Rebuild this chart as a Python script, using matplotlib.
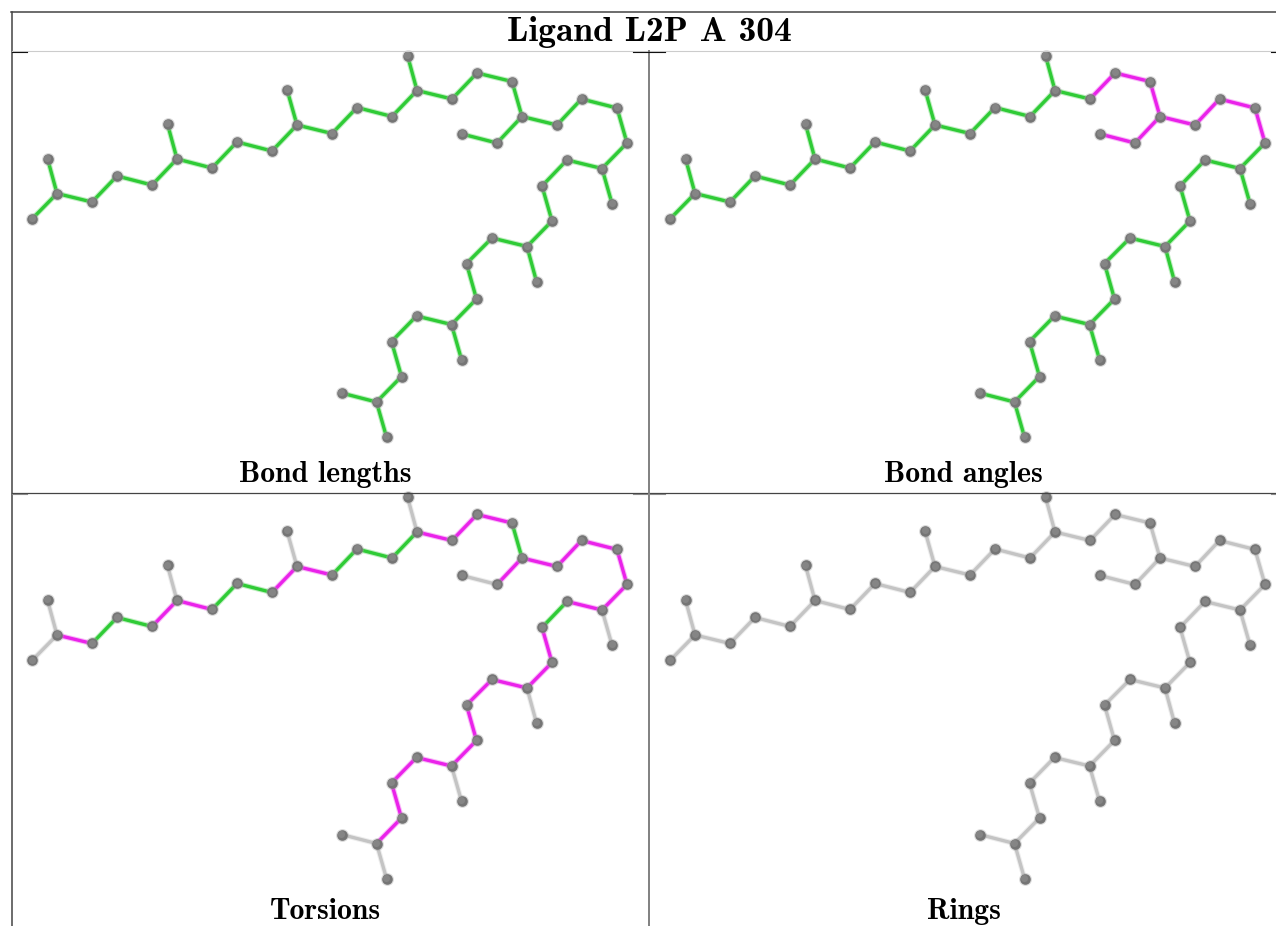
"""Ligand validation panels: one skeleton drawn four times, bonds coloured by outlier status."""

import matplotlib
matplotlib.use('Agg')
import matplotlib.pyplot as plt

W, H = 1276, 926

title = 'Ligand L2P A 304'
panel_names = ['Bond lengths', 'Bond angles', 'Torsions', 'Rings']

# atom positions
atom_x = [32, 57, 47.5, 92, 117, 152, 177, 167.5, 212, 237, 272, 297, 287, 332, 357, 392,
          417, 407.5, 452, 477, 512, 522, 497, 462, 557, 581.5, 617, 627, 602, 612, 567,
          542, 552, 527, 536.5, 492, 466.5, 476.5, 451.5, 461.5, 416.5, 391.5, 401.5,
          376.5, 341.5, 386.5]
atom_y = [219, 193.5, 158.5, 202, 176, 185, 159, 124, 168, 142, 151, 125, 89.5, 133.5,
          107.5, 116.5, 90.5, 55.5, 99, 73, 81.5, 116.5, 143, 134, 125, 99, 108, 143,
          168.5, 203.5, 160, 186, 221, 246.5, 281.5, 238, 263.5, 299, 324.5, 359.5, 316,
          341.5, 376.5, 402, 393, 437]

bond_a = [0, 1, 1, 3, 4, 5, 6, 6, 8, 9, 10, 11, 11, 13, 14, 15, 16, 16, 18, 19, 20, 21, 22,
          21, 24, 25, 26, 27, 28, 28, 30, 31, 32, 33, 33, 35, 36, 37, 38, 38, 40, 41, 42,
          43, 43]
bond_b = [1, 2, 3, 4, 5, 6, 7, 8, 9, 10, 11, 12, 13, 14, 15, 16, 17, 18, 19, 20, 21, 22, 23,
          24, 25, 26, 27, 28, 29, 30, 31, 32, 33, 34, 35, 36, 37, 38, 39, 40, 41, 42, 43,
          44, 45]

# g = checked ok, m = has outliers, n = not checked
status_lengths = 'g' * 45
status_angles = 'g' * 18 + 'mmmmmmmmm' + 'g' * 18
status_torsions = ('nnmggmnmggmnmgggnmmmgmnmmmmmnmgmmnmmmmnmmmmnn')
status_rings = 'n' * 45
panel_status = [status_lengths, status_angles, status_torsions, status_rings]

bond_colors = {'g': '#2fcb36', 'm': '#ea22ea', 'n': '#c4c4c4'}


def draw_panel(ax, status):
    for a, b, st in zip(bond_a, bond_b, status):
        xs = [atom_x[a], atom_x[b]]
        ys = [atom_y[a], atom_y[b]]
        c = bond_colors[st]
        ax.plot(xs, ys, color=c, lw=3.9, alpha=0.3, solid_capstyle='round', clip_on=False, zorder=2)
        ax.plot(xs, ys, color=c, lw=2.4, solid_capstyle='round', clip_on=False, zorder=3)
    # ball: soft edge, body, small highlight
    ax.scatter(atom_x, atom_y, s=86, color='#a8a8a8', alpha=0.4, linewidths=0, clip_on=False, zorder=4)
    ax.scatter(atom_x, atom_y, s=58, color='#757575', linewidths=0, clip_on=False, zorder=5)
    ax.scatter([x - 0.4 for x in atom_x], [y - 0.6 for y in atom_y], s=26, color='#858585',
               linewidths=0, clip_on=False, zorder=6)


fig = plt.figure(figsize=(W / 100, H / 100), dpi=100)

panel_w, panel_h = 638, 441.5
for i, name in enumerate(panel_names):
    col, row = i % 2, i // 2
    left = 12 + col * panel_w
    top = 50.5 + row * panel_h
    ax = fig.add_axes([left / W, 1 - (top + panel_h) / H, panel_w / W, panel_h / H])
    ax.set_xlim(12, 12 + panel_w)
    ax.set_ylim(50.5 + panel_h, 50.5)
    ax.axis('off')
    draw_panel(ax, panel_status[i])
    # bottom row sits a little higher so the descender of "Rings" stays on the canvas
    baseline = 481.5 if row == 0 else 477.5
    ax.text(325.5, baseline, name, family='cmb10', fontsize=21.4, ha='center', va='baseline',
            color='black', clip_on=False, zorder=7)

# table rules on a full figure overlay, coordinates in pixels
frame = fig.add_axes([0, 0, 1, 1], facecolor='none')
frame.set_xlim(0, W)
frame.set_ylim(H, 0)
frame.axis('off')
frame.plot([11, W], [12, 12], color='#444444', lw=1.1)
frame.plot([11.5, 11.5], [12, H], color='#444444', lw=1.1)
frame.plot([12, W], [50.5, 50.5], color='#cccccc', lw=0.8)
frame.plot([12, W], [492.5, 492.5], color='#444444', lw=0.9)
frame.plot([648.5, 648.5], [51, H], color='#808080', lw=1.4)
for x0, x1 in [(12, 27), (633, 665), (1271, W)]:
    frame.plot([x0, x1], [51.5, 51.5], color='#111111', lw=0.8)
    frame.plot([x0, x1], [493.5, 493.5], color='#888888', lw=0.8)
frame.text(649, 41, title, family='cmb10', fontsize=25.6, ha='center', va='baseline', color='black')

fig.savefig('out.png', dpi=100)
plt.close(fig)
